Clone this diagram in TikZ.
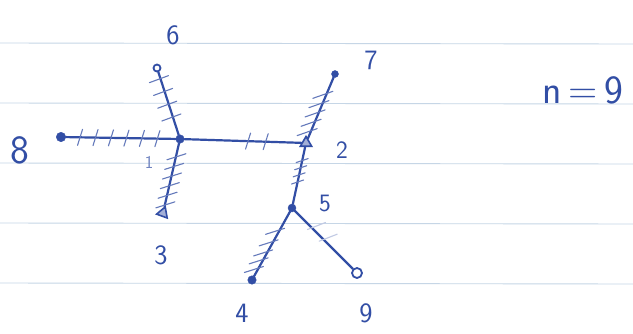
\documentclass[tikz,border=0pt]{standalone}
\usepackage{tikz}
\usetikzlibrary{positioning, calc, shapes.geometric}
\definecolor{ink}{RGB}{50,78,165}
\definecolor{ruling}{RGB}{198,214,230}

\begin{document}
\begin{tikzpicture}[
    x=1pt, y=-1pt,
    dot/.style={circle, draw=ink, fill=ink, inner sep=0pt, minimum size=8.5pt},
    ring/.style={circle, draw=ink, fill=white, line width=1.8pt, inner sep=0pt, minimum size=10pt},
    tri/.style={regular polygon, regular polygon sides=3, draw=ink, fill=ink!45, line width=1.6pt, inner sep=0pt, minimum size=13pt},
    edge/.style={draw=ink, line width=2.2pt, line cap=round},
    tick/.style={draw=ink!75, line width=1.1pt, line cap=round},
    faint tick/.style={draw=ink!30, line width=1.1pt, line cap=round},
    rule/.style={draw=ruling, line width=0.9pt},
    num/.style={text=ink, font=\sffamily\fontsize{28}{30}\selectfont, inner sep=0pt}
]

\useasboundingbox (0,0) rectangle (633,333);
\fill[white] (0,0) rectangle (633,333);

% --- ruled paper ---
\foreach \y in {43,103,163,223,283} {
    \draw[rule] (0,\y) -- (633,\y+1);
}

% --- vertices ---
\node[dot] (v1) at (180,139) {};
\node[tri] (v2) at (306,143) {};
\node[tri, rotate=-20] (v3) at (163,213) {};
\node[dot] (v4) at (252,280) {};
\node[dot, minimum size=8pt] (v5) at (292,208) {};
\node[ring, minimum size=7pt] (v6) at (157,68) {};
\node[dot, minimum size=7pt] (v7) at (335,74) {};
\node[dot, minimum size=9.5pt] (v8) at (61,137) {};
\node[ring] (v9) at (357,273) {};

% --- edges ---
\draw[edge] (v8) -- (v1);
\draw[edge] (v6) -- (v1);
\draw[edge] (v1) -- (v3);
\draw[edge] (v1) -- (v2);
\draw[edge] (v2) -- (v7);
\draw[edge] (v2) -- (v5);
\draw[edge] (v5) -- (v4);
\draw[edge] (v5) -- (v9);

% --- hatch marks ---
\foreach \p in {0.16,0.29,0.42,0.55,0.68,0.81}
    \draw[tick] ($(v8)!\p!(v1)$) +(-2.5,8) -- +(2.5,-8);
\foreach \p in {0.15,0.33,0.51,0.69}
    \draw[tick] ($(v6)!\p!(v1)$) +(-11,4) -- +(8,-3);
\foreach \p in {0.24,0.37,0.5,0.63,0.76,0.89}
    \draw[tick] ($(v1)!\p!(v3)$) +(-9,3) -- +(10,-3);
\foreach \p in {0.54,0.68}
    \draw[tick] ($(v1)!\p!(v2)$) +(-2.5,8) -- +(2.5,-8);
\foreach \p in {0.18,0.315,0.45,0.585,0.72}
    \draw[tick] ($(v2)!\p!(v7)$) +(-14,5) -- +(6,-2);
\foreach \p in {0.27,0.38,0.49,0.6}
    \draw[tick] ($(v2)!\p!(v5)$) +(-6,2) -- +(6,-2);
\foreach \p in {0.31,0.47,0.61,0.72,0.84}
    \draw[tick] ($(v5)!\p!(v4)$) +(-14,4) -- +(5,-2);
\foreach \p in {0.3,0.48}
    \draw[faint tick] ($(v5)!\p!(v9)$) +(-4,2) -- +(14,-5);

% --- labels ---
\node[num] (lbl6) at (173,35) {6};
\node[num] (lbl7) at (371,60) {7};
\node[num, font=\sffamily\fontsize{40}{42}\selectfont] (lbl8) at (20,150) {8};
\node[num, text=ink!70, font=\sffamily\fontsize{18}{20}\selectfont] (lbl1) at (149,162) {1};
\node[num, font=\sffamily\fontsize{25}{27}\selectfont] (lbl2) at (342,150) {2};
\node[num, font=\sffamily\fontsize{25}{27}\selectfont] (lbl5) at (325,203) {5};
\node[num] (lbl3) at (161,255) {3};
\node[num] (lbl4) at (242,313) {4};
\node[num] (lbl9) at (366,313) {9};
\node[num, font=\sffamily\fontsize{40}{42}\selectfont] (lbln) at (583,90) {n\,=\,9};

\end{tikzpicture}
\end{document}
